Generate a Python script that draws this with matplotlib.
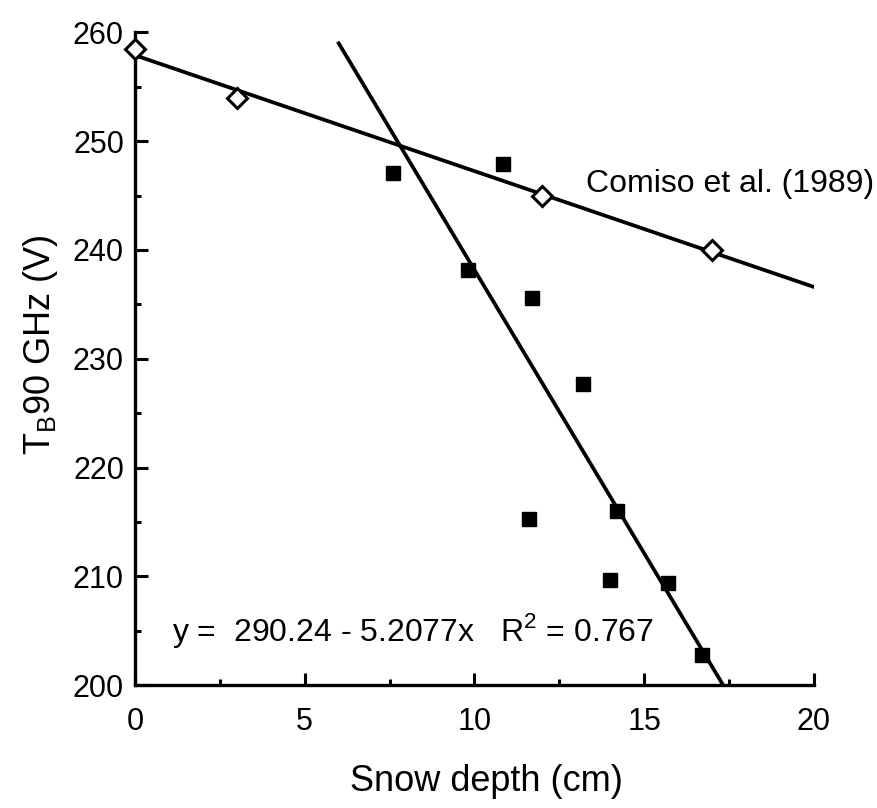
import numpy as np
import matplotlib
matplotlib.use('Agg')
import matplotlib.pyplot as plt
from matplotlib.ticker import MultipleLocator

plt.rcParams['font.family'] = ['Liberation Sans', 'DejaVu Sans']
plt.rcParams['mathtext.fontset'] = 'custom'
plt.rcParams['mathtext.rm'] = 'Liberation Sans'

# Comiso et al. (1989) points (open diamonds)
comiso_depth = [0, 3, 12, 17]
comiso_tb = [258.5, 254.0, 245.0, 240.0]

# measured points (filled squares)
snow_depth = [7.6, 10.85, 9.8, 11.7, 13.2, 11.6, 14.2, 14.0, 15.7, 16.7]
tb90 = [247.1, 247.9, 238.2, 235.6, 227.7, 215.3, 216.0, 209.7, 209.4, 202.8]

# regression from the figure: y = 290.24 - 5.2077x
fit_a, fit_b = 290.24, -5.2077

fig = plt.figure(figsize=(8.77, 8.08), dpi=100)
ax = fig.add_axes([0.154, 0.152, 0.774, 0.808])

# Comiso line: least squares fit of the diamonds over 0..20
cb, ca = np.polyfit(comiso_depth, comiso_tb, 1)
xc = np.array([0, 20])
ax.plot(xc, ca + cb * xc, color='black', lw=2.7, zorder=2)
ax.plot(comiso_depth, comiso_tb, linestyle='none', marker='D', ms=10,
        mfc='white', mec='black', mew=2.2, zorder=3, clip_on=False)

# regression line down to the x axis
xr = np.array([6.0, (200 - fit_a) / fit_b])
ax.plot(xr, fit_a + fit_b * xr, color='black', lw=2.7, zorder=2)
ax.plot(snow_depth, tb90, linestyle='none', marker='s', ms=10,
        color='black', zorder=3)

ax.text(13.3, 246.1, 'Comiso et al. (1989)', fontsize=23, va='center', ha='left')
ax.text(1.1, 205.0, 'y =  290.24 - 5.2077x   R$^\\mathregular{2}$ = 0.767',
        fontsize=23, va='center', ha='left')

ax.set_xlim(0, 20)
ax.set_ylim(200, 260)
ax.xaxis.set_major_locator(MultipleLocator(5))
ax.xaxis.set_minor_locator(MultipleLocator(2.5))
ax.yaxis.set_major_locator(MultipleLocator(10))
ax.yaxis.set_minor_locator(MultipleLocator(5))

for s in ['top', 'right']:
    ax.spines[s].set_visible(False)
for s in ['left', 'bottom']:
    ax.spines[s].set_linewidth(2.4)

ax.tick_params(which='major', direction='in', length=9, width=2.2, labelsize=22)
ax.tick_params(which='minor', direction='in', length=4, width=2.2)
ax.tick_params(axis='x', which='major', pad=16)
ax.tick_params(axis='y', which='major', pad=8)

ax.set_xlabel('Snow depth (cm)', fontsize=26)
ax.set_ylabel('T$_\\mathregular{B}$90 GHz (V)', fontsize=26)
ax.xaxis.set_label_coords(0.518, -0.12)
ax.yaxis.set_label_coords(-0.11, 0.522)

fig.savefig('out.png', dpi=100)
